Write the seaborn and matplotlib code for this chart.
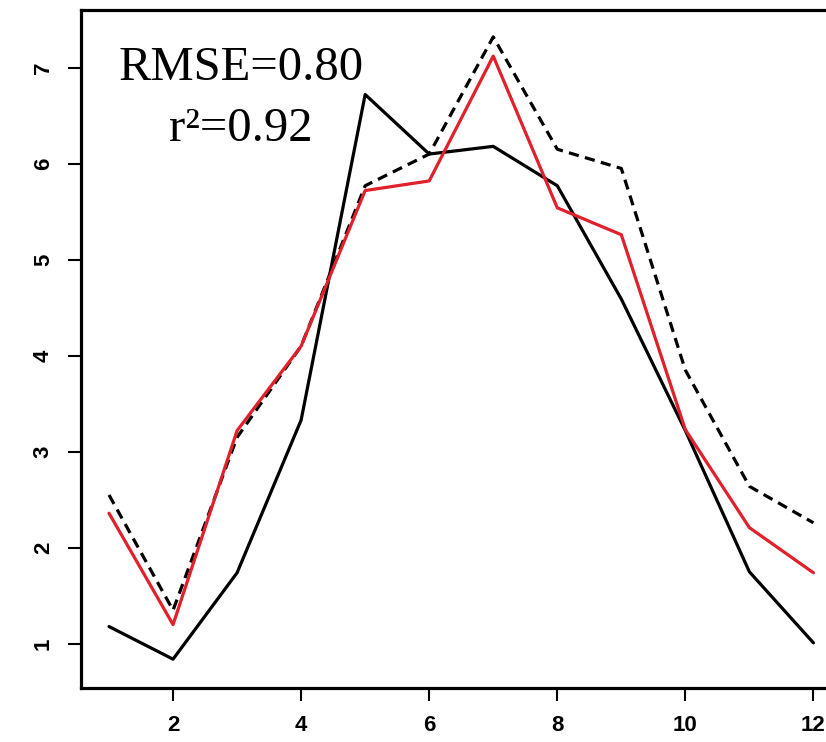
import matplotlib
matplotlib.use("Agg")
import matplotlib.pyplot as plt
import seaborn as sns
import pandas as pd

months = [1, 2, 3, 4, 5, 6, 7, 8, 9, 10, 11, 12]
observed = [1.18, 0.84, 1.74, 3.33, 6.72, 6.10, 6.18, 5.77, 4.59, 3.22, 1.75, 1.01]
dashed_series = [2.55, 1.35, 3.15, 4.10, 5.77, 6.10, 7.32, 6.15, 5.95, 3.85, 2.64, 2.26]
red_series = [2.36, 1.20, 3.22, 4.10, 5.72, 5.82, 7.12, 5.54, 5.26, 3.23, 2.21, 1.74]
x_ticks = [2, 4, 6, 8, 10, 12]
y_ticks = [1, 2, 3, 4, 5, 6, 7]
stats_text = ["RMSE=0.80", "r²=0.92"]

sns.set_style("white")

fig = plt.figure(figsize=(8.26, 7.42), dpi=100)
ax = fig.add_axes([81/826, 54/742, (832-81)/826, (688-10)/742])

lw = 2.3
sns.lineplot(x=months, y=observed, ax=ax, color="black", linewidth=lw)
sns.lineplot(x=months, y=dashed_series, ax=ax, color="black", linewidth=lw,
             linestyle=(0, (3.2, 2.0)))
sns.lineplot(x=months, y=red_series, ax=ax, color="#e0202a", linewidth=lw)

ax.set_xlim(0.5625, 12.29)
ax.set_ylim(0.54, 7.60)
ax.set_xticks(x_ticks)
ax.set_yticks(y_ticks)
ax.set_xticklabels([str(t) for t in x_ticks], fontsize=16, fontweight="bold",
                   family="Liberation Sans")
ax.set_yticklabels([str(t) for t in y_ticks], fontsize=16, fontweight="bold",
                   family="Liberation Sans", rotation=90, va="center")
ax.tick_params(axis="both", direction="out", length=9.5, width=1.5,
               colors="black", pad=10, left=True, bottom=True)

for side in ["left", "bottom", "top", "right"]:
    ax.spines[side].set_visible(True)
    ax.spines[side].set_color("black")
    ax.spines[side].set_linewidth(2.3)

ax.text(3.06, 7.0, stats_text[0], ha="center", va="center", fontsize=35,
        family="Liberation Serif", color="black")
ax.text(3.06, 6.36, stats_text[1], ha="center", va="center", fontsize=35,
        family="Liberation Serif", color="black")

fig.savefig("out.png", dpi=100)
